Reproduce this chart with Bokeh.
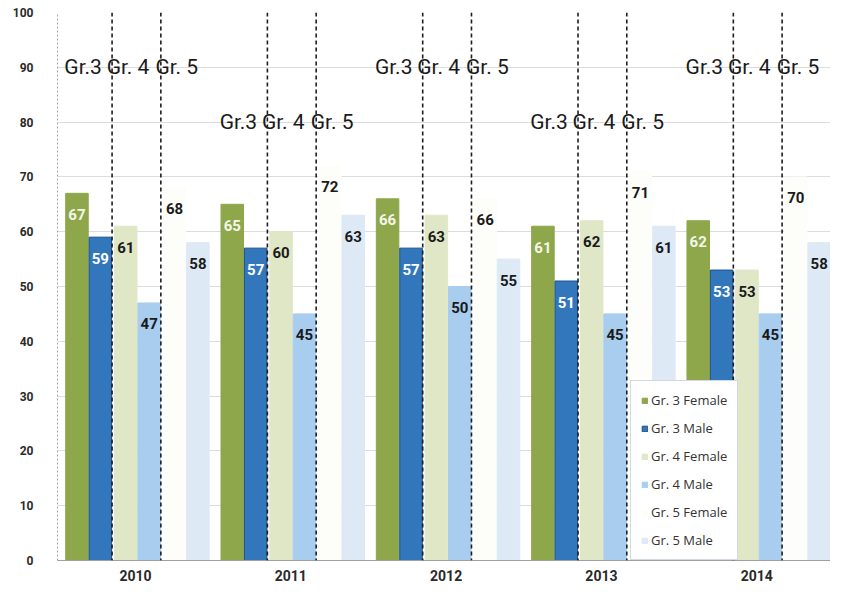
from bokeh.plotting import figure
from bokeh.models import Range1d, FixedTicker, Legend, LegendItem, Span, ColumnDataSource
from bokeh.core.properties import value
from bokeh.embed import file_html
from bokeh.resources import INLINE

# ---------------- data ----------------
years = ["2010", "2011", "2012", "2013", "2014"]
series_names = ["Gr. 3 Female", "Gr. 3 Male", "Gr. 4 Female",
                "Gr. 4 Male", "Gr. 5 Female", "Gr. 5 Male"]
gr3_female = [67, 65, 66, 61, 62]
gr3_male = [59, 57, 57, 51, 53]
gr4_female = [61, 60, 63, 62, 53]
gr4_male = [47, 45, 50, 45, 45]
gr5_female = [68, 72, 66, 71, 70]
gr5_male = [58, 63, 55, 61, 58]
grade_labels = ["Gr.3", "Gr. 4", "Gr. 5"]
grade_label_levels = [90, 80, 90, 80, 90]
y_ticks = list(range(0, 101, 10))

series_values = [gr3_female, gr3_male, gr4_female, gr4_male, gr5_female, gr5_male]

# ---------------- style / layout ----------------
fill_colors = ["#8ea74b", "#3277bb", "#e0e7c6", "#a9cdee", "#fdfdf9", "#dde9f5"]
line_colors = ["#8ea74b", "#1d4f8c", "#e0e7c6", "#a9cdee", "#fdfdf9", "#dde9f5"]
label_colors = ["#f4f6ea", "#ffffff", "#1a1a1a", "#1a1a1a", "#1a1a1a", "#1a1a1a"]

BAR_PITCH = 0.1507
BAR_W = 0.145
GRADE_PITCH = 0.314
GROUP_START = -0.452

p = figure(width=830, height=583, output_backend="svg", toolbar_location=None,
           x_range=Range1d(-0.502, 4.475), y_range=Range1d(0, 100),
           min_border_left=57, min_border_right=0, min_border_top=12,
           min_border_bottom=21)
p.outline_line_color = None
p.background_fill_color = "white"
p.xgrid.grid_line_color = None
p.ygrid.grid_line_color = "#dcdcdc"
p.ygrid.ticker = FixedTicker(ticks=y_ticks)

renderers = []
for k, vals in enumerate(series_values):
    grade, sex = divmod(k, 2)
    xs = [g + GROUP_START + grade * GRADE_PITCH + sex * BAR_PITCH + BAR_PITCH / 2
          for g in range(len(years))]
    src = ColumnDataSource(dict(x=xs, top=vals, lab=[str(v) for v in vals]))
    r = p.vbar(x="x", top="top", width=BAR_W, bottom=0, source=src,
               fill_color=fill_colors[k], line_color=line_colors[k], line_width=1)
    renderers.append(r)
    p.text(x="x", y="top", text="lab", source=src, text_align="center",
           text_baseline="middle", y_offset=21, text_color=label_colors[k],
           text_font=value("Roboto"), text_font_style="bold", text_font_size="15px")

# dashed separators and grade annotations
for g in range(len(years)):
    base = g + GROUP_START
    sep = [base + j * GRADE_PITCH + 2 * BAR_PITCH for j in range(2)]
    for s in sep:
        p.add_layout(Span(location=s, dimension="height", line_color="#1e1e1e",
                          line_width=1.6, line_dash="4 3"))
    lx = [base - 0.006, sep[0] - 0.035, sep[1] - 0.035]
    ly = [grade_label_levels[g]] * 3
    p.text(x=lx, y=ly, text=grade_labels, text_align="left", text_baseline="middle",
           text_color="#1a1a1a", text_font=value("Roboto"), text_font_size="21px")

# axes
p.yaxis.ticker = FixedTicker(ticks=y_ticks)
p.yaxis.major_label_text_font = "Roboto"
p.yaxis.major_label_text_font_style = "bold"
p.yaxis.major_label_text_font_size = "12px"
p.yaxis.major_label_text_color = "#2a2a2a"
p.yaxis.major_tick_line_color = None
p.yaxis.minor_tick_line_color = None
p.yaxis.axis_line_color = "#aaaaaa"
p.yaxis.axis_line_dash = "2 2"
p.yaxis.major_label_standoff = 18

p.xaxis.ticker = FixedTicker(ticks=list(range(len(years))))
p.xaxis.major_label_overrides = {i: y for i, y in enumerate(years)}
p.xaxis.major_label_text_font = "Roboto"
p.xaxis.major_label_text_font_style = "bold"
p.xaxis.major_label_text_font_size = "14px"
p.xaxis.major_label_text_color = "#2a2a2a"
p.xaxis.major_tick_line_color = None
p.xaxis.minor_tick_line_color = None
p.xaxis.axis_line_color = "#a0a0a0"
p.xaxis.major_label_standoff = 3

legend = Legend(items=[LegendItem(label=n, renderers=[r]) for n, r in zip(series_names, renderers)],
                location=(573, 0))
legend.border_line_color = "#a6b4c8"
legend.background_fill_color = "white"
legend.background_fill_alpha = 1.0
legend.label_text_font = "Open Sans"
legend.label_text_font_size = "13px"
legend.label_text_color = "#333333"
legend.glyph_width = 7
legend.glyph_height = 7
legend.label_standoff = 3
legend.label_height = 17
legend.spacing = 10
legend.padding = 10
legend.margin = 0
p.add_layout(legend)

open("out.html", "w").write(file_html(p, INLINE))
